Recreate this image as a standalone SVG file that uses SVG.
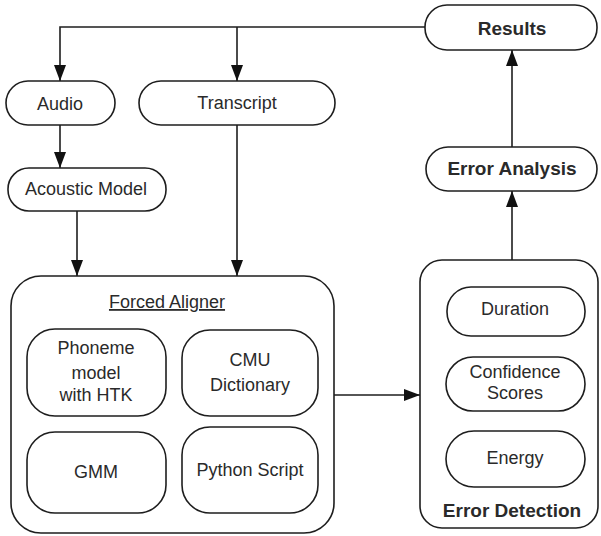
<svg xmlns="http://www.w3.org/2000/svg" width="601" height="536" viewBox="0 0 601 536">
<defs>
<style>
.n{fill:#fff;stroke:#1e1e1e;stroke-width:1.6}
.t{font-family:"Liberation Sans",Arial,sans-serif;font-size:18px;fill:#2a2a2a;text-anchor:middle}
.b{font-weight:bold;font-size:19px}
.c{fill:none;stroke:#1e1e1e;stroke-width:1.6}
</style>
<marker id="ah" viewBox="0 0 16 12" refX="16" refY="6" markerWidth="16" markerHeight="12" markerUnits="userSpaceOnUse" orient="auto">
<path d="M0,0 L16,6 L0,12 z" fill="#111"/>
</marker>
</defs>
<rect width="601" height="536" fill="#fff"/>
<g id="connectors">
<path class="c" d="M425,27 H60 V81" marker-end="url(#ah)"/>
<path class="c" d="M237,27 V81" marker-end="url(#ah)"/>
<path class="c" d="M60,125 V168" marker-end="url(#ah)"/>
<path class="c" d="M77,211 V276" marker-end="url(#ah)"/>
<path class="c" d="M237,125 V276" marker-end="url(#ah)"/>
<path class="c" d="M334,395 H420" marker-end="url(#ah)"/>
<path class="c" d="M512,260 V191" marker-end="url(#ah)"/>
<path class="c" d="M512,147 V50" marker-end="url(#ah)"/>
</g>
<g id="results"><rect class="n" x="425" y="5" width="172" height="45" rx="22"/><text class="t b" x="512" y="34.5">Results</text></g>
<g id="audio"><rect class="n" x="6" y="81" width="109" height="44" rx="22"/><text class="t" x="60" y="109.5">Audio</text></g>
<g id="transcript"><rect class="n" x="139" y="81" width="196" height="44" rx="22"/><text class="t" x="237" y="108.5">Transcript</text></g>
<g id="acoustic-model"><rect class="n" x="8" y="168" width="158" height="43" rx="21"/><text class="t" x="86" y="194.5">Acoustic Model</text></g>
<g id="error-analysis"><rect class="n" x="426" y="147" width="171" height="44" rx="22"/><text class="t b" x="512" y="174.5">Error Analysis</text></g>
<g id="forced-aligner">
<rect class="n" x="11" y="276" width="323" height="257" rx="30"/>
<text class="t" x="167" y="308" text-decoration="underline">Forced Aligner</text>
<g id="phoneme"><rect class="n" x="27" y="329" width="139" height="87" rx="28"/><text class="t" x="96" y="354">Phoneme</text><text class="t" x="96" y="379">model</text><text class="t" x="96" y="401">with HTK</text></g>
<g id="cmu"><rect class="n" x="182" y="330" width="136" height="86" rx="28"/><text class="t" x="250" y="366">CMU</text><text class="t" x="250" y="391">Dictionary</text></g>
<g id="gmm"><rect class="n" x="27" y="432" width="139" height="81" rx="28"/><text class="t" x="96" y="478">GMM</text></g>
<g id="python"><rect class="n" x="182" y="427" width="136" height="86" rx="28"/><text class="t" x="250" y="476">Python Script</text></g>
</g>
<g id="error-detection">
<rect class="n" x="420" y="260" width="178" height="268" rx="22"/>
<g id="duration"><rect class="n" x="447" y="287" width="138" height="49" rx="24"/><text class="t" x="515" y="315">Duration</text></g>
<g id="confidence"><rect class="n" x="446" y="357" width="139" height="54" rx="27"/><text class="t" x="515" y="378">Confidence</text><text class="t" x="515" y="399">Scores</text></g>
<g id="energy"><rect class="n" x="446" y="431" width="139" height="56" rx="28"/><text class="t" x="515" y="464">Energy</text></g>
<text class="t b" x="512" y="516.5">Error Detection</text>
</g>
</svg>
